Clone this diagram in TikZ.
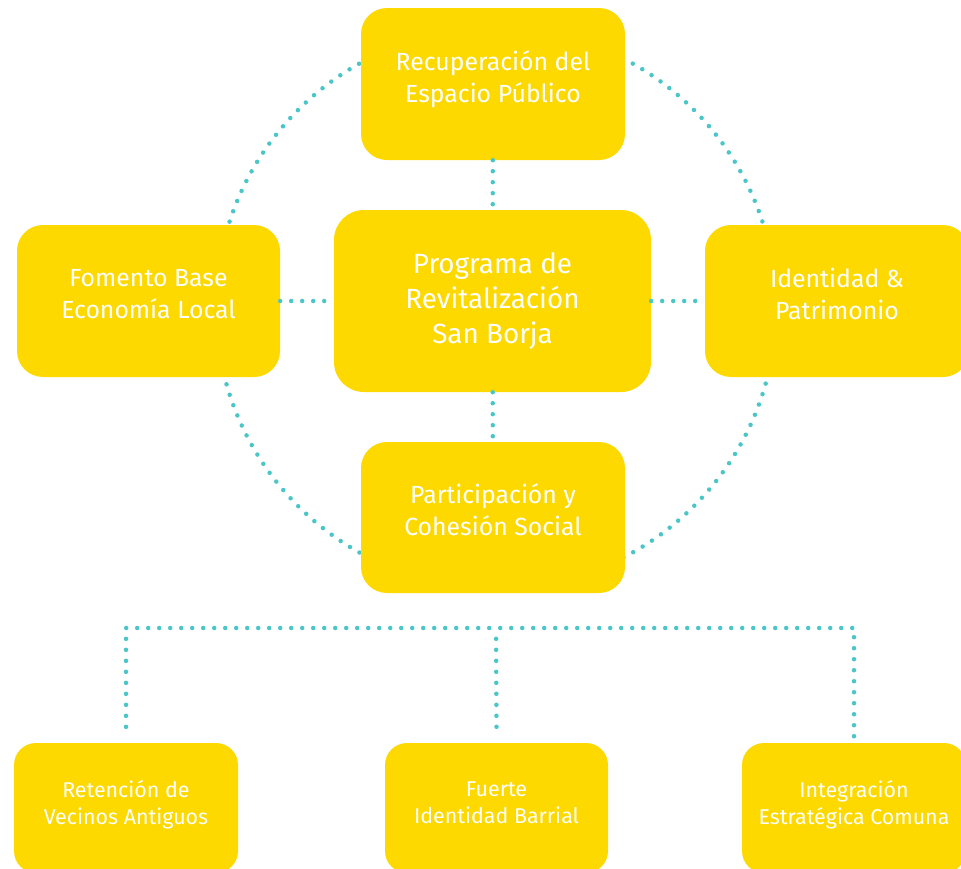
\documentclass[tikz,border=0pt]{standalone}
\usepackage{fontspec}
\setmainfont{Fira Sans}
\usepackage{tikz}
\definecolor{amarillo}{HTML}{FDD900}
\definecolor{turquesa}{HTML}{4BC6C8}
\tikzset{>=stealth}
\tikzset{
  caja/.style={fill=amarillo, rounded corners=26pt, text=white, align=center, inner sep=0pt},
  puntos/.style={turquesa, line width=4.5pt, line cap=round, dash pattern=on 0pt off 11pt}
}

\begin{document}
\begin{tikzpicture}[x=1pt, y=-1pt]

\clip (0,0) rectangle (961,868);
\fill[white] (0,0) rectangle (961,868);

    \draw[puntos] (496,308) circle[radius=280pt]; %anillo

    \node[caja, minimum width=264pt, minimum height=152pt, text depth=15pt, font=\fontsize{24.8}{32}\selectfont] (rec) at (493,84) {Recuperaci\'on del\\Espacio P\'ublico};
    \node[caja, minimum width=317pt, minimum height=182pt, rounded corners=30pt, font=\fontsize{27.8}{35}\selectfont] (prog) at (492.5,301) {Programa de\\Revitalizaci\'on\\San Borja};
    \node[caja, minimum width=263pt, minimum height=152pt, text depth=15pt, font=\fontsize{24.8}{32}\selectfont] (fom) at (148.5,301) {Fomento Base\\Econom\'ia Local};
    \node[caja, minimum width=264pt, minimum height=152pt, text depth=15pt, font=\fontsize{24.8}{32}\selectfont] (ide) at (837,301) {Identidad \&\\Patrimonio};
    \node[caja, minimum width=264pt, minimum height=151pt, text depth=15pt, font=\fontsize{24.8}{32}\selectfont] (par) at (493,517.5) {Participaci\'on y\\Cohesi\'on Social};

    \draw[puntos] (rec) -- (prog);
    \draw[puntos] (fom) -- (prog);
    \draw[puntos] (prog) -- (ide);
    \draw[puntos] (prog) -- (par);

    \node[caja, rounded corners=22pt, minimum width=224pt, minimum height=130pt, text depth=11pt, font=\fontsize{21.4}{27}\selectfont] (ret) at (126,808) {Retenci\'on de\\Vecinos Antiguos};
    \node[caja, rounded corners=22pt, minimum width=223pt, minimum height=130pt, text depth=11pt, font=\fontsize{21.4}{27}\selectfont] (fue) at (496.5,808) {Fuerte\\Identidad Barrial};
    \node[caja, rounded corners=22pt, minimum width=224pt, minimum height=130pt, text depth=11pt, font=\fontsize{21.4}{27}\selectfont] (int) at (854,808) {Integraci\'on\\Estrat\'egica Comuna};

    \coordinate (bus) at (496,628);
    \draw[puntos] ([yshift=16pt]ret.north) -- (ret.north |- bus) -- (int.north |- bus) -- (int.north);
    \draw[puntos] ([yshift=16pt]fue.north) -- (bus);

\end{tikzpicture}
\end{document}
